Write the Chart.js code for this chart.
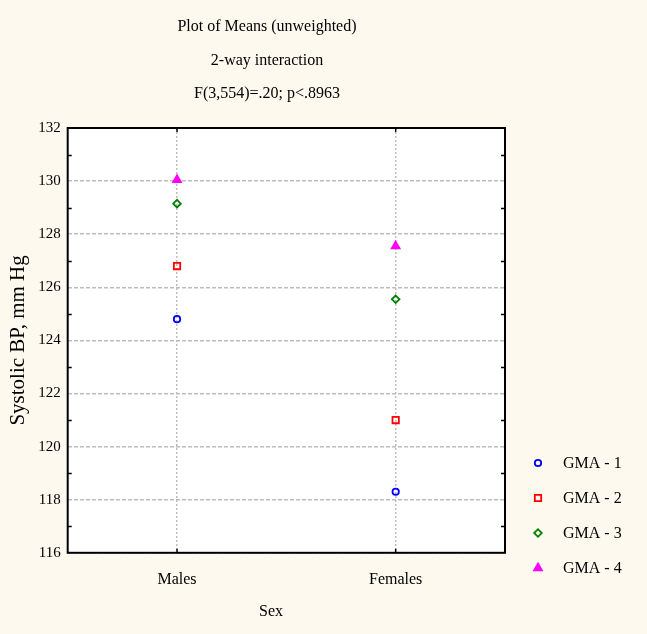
<!DOCTYPE html>
<html>
<head>
<meta charset="utf-8">
<title>Plot of Means</title>
<script src="https://cdn.jsdelivr.net/npm/chart.js@4"></script>
<style>
	body {
		margin: 0;
		background: #fdf9ee;
	}

	.chart {
		width: 647px;
		height: 634px;
	}
</style>
</head>
<body>
<div class="chart"><canvas id="myChart"></canvas></div>

<script>
	// data
	var sexes = [ 'Males', 'Females' ];
	var gma1 = [ 124.8, 118.3 ];
	var gma2 = [ 126.8, 121.0 ];
	var gma3 = [ 129.15, 125.55 ];
	var gma4 = [ 130.05, 127.55 ];
	var groupNames = [ 'GMA - 1', 'GMA - 2', 'GMA - 3', 'GMA - 4' ];
	var titleLines = [ 'Plot of Means (unweighted)', '2-way interaction', 'F(3,554)=.20; p<.8963' ];
	var xTitle = 'Sex';
	var yTitle = 'Systolic BP, mm Hg';
	var yMin = 116, yMax = 132, yStep = 2;

	var serif = '"Liberation Serif", "Times New Roman", serif';

	function makeSet( label, values, color, style, radius, fill ) {
		return {
			label: label,
			data: values,
			showLine: false,
			pointStyle: style,
			pointRadius: radius,
			pointHoverRadius: radius,
			pointBorderWidth: 1.8,
			borderColor: color,
			backgroundColor: fill ? color : 'rgba(0,0,0,0)',
			pointBackgroundColor: fill ? color : 'rgba(0,0,0,0)'
		};
	}

	var extras = {
		id: 'extras',
		beforeDraw: function( chart ) {
			var a = chart.chartArea, ctx = chart.ctx;
			ctx.save();
			ctx.fillStyle = '#ffffff';
			ctx.fillRect( a.left, a.top, a.right - a.left, a.bottom - a.top );
			ctx.restore();
		},
		afterDraw: function( chart ) {
			var a = chart.chartArea, ctx = chart.ctx;
			var y = chart.scales.y, x = chart.scales.x;
			ctx.save();

			// frame
			ctx.strokeStyle = '#000';
			ctx.lineWidth = 2;
			ctx.strokeRect( a.left, a.top, a.right - a.left, a.bottom - a.top );

			// minor ticks, inward
			ctx.lineWidth = 1.5;
			ctx.beginPath();
			for( var v = yMin + 1; v < yMax; v += 2 ) {
				var py = Math.round( y.getPixelForValue( v ) ) + 0.5;
				ctx.moveTo( a.left, py );
				ctx.lineTo( a.left + 4, py );
				ctx.moveTo( a.right, py );
				ctx.lineTo( a.right - 4, py );
			}
			for( var i = 0; i < sexes.length; i++ ) {
				var px = x.getPixelForValue( i );
				ctx.moveTo( px, a.bottom );
				ctx.lineTo( px, a.bottom - 4 );
				ctx.moveTo( px, a.top );
				ctx.lineTo( px, a.top + 4 );
			}
			ctx.stroke();

			// titles
			ctx.fillStyle = '#000';
			ctx.textAlign = 'center';
			ctx.textBaseline = 'middle';
			ctx.font = '16px ' + serif;
			for( var j = 0; j < titleLines.length; j++ ) {
				ctx.fillText( titleLines[ j ], 267, 27 + j * 33.5 );
			}
			ctx.fillText( xTitle, 271, 612 );

			// legend
			ctx.textAlign = 'left';
			var sets = chart.data.datasets;
			for( var k = 0; k < sets.length; k++ ) {
				var ly = 463 + k * 35;
				ctx.strokeStyle = sets[ k ].borderColor;
				ctx.fillStyle = sets[ k ].pointBackgroundColor;
				ctx.lineWidth = sets[ k ].pointBorderWidth;
				Chart.helpers.drawPoint( ctx, {
					pointStyle: sets[ k ].pointStyle,
					radius: sets[ k ].pointRadius,
					rotation: 0,
					borderWidth: sets[ k ].pointBorderWidth
				}, 538, ly );
				ctx.fillStyle = '#000';
				ctx.font = '16px ' + serif;
				ctx.fillText( sets[ k ].label, 563, ly + 1 );
			}
			ctx.restore();
		}
	};

	new Chart( document.getElementById( 'myChart' ), {
		type: 'line',
		data: {
			labels: sexes,
			datasets: [
				makeSet( groupNames[ 0 ], gma1, '#0000ff', 'circle', 3.2, false ),
				makeSet( groupNames[ 1 ], gma2, '#ff0000', 'rect', 4.5, false ),
				makeSet( groupNames[ 2 ], gma3, '#008000', 'rectRot', 3.8, false ),
				makeSet( groupNames[ 3 ], gma4, '#ff00ff', 'triangle', 4.5, true )
			]
		},
		options: {
			responsive: true,
			maintainAspectRatio: false,
			animation: false,
			layout: {
				padding: { top: 128, right: 142, bottom: 28, left: 6 }
			},
			plugins: {
				legend: { display: false },
				tooltip: { enabled: false }
			},
			scales: {
				x: {
					type: 'category',
					offset: true,
					grid: {
						offset: false,
						color: '#bdbdbd',
						lineWidth: 1.5,
						drawTicks: false
					},
					border: { display: false, dash: [ 2, 2 ] },
					ticks: {
						color: '#000',
						padding: 17,
						font: { family: serif, size: 16 }
					}
				},
				y: {
					min: yMin,
					max: yMax,
					grid: {
						color: '#bdbdbd',
						lineWidth: 1.5,
						drawTicks: false
					},
					border: { display: false, dash: [ 4, 2 ] },
					ticks: {
						stepSize: yStep,
						color: '#000',
						padding: 7,
						font: { family: serif, size: 15 }
					},
					title: {
						display: true,
						text: yTitle,
						color: '#000',
						padding: { top: 0, bottom: 0 },
						font: { family: serif, size: 21 }
					}
				}
			}
		},
		plugins: [ extras ]
	});
</script>
</body>
</html>
